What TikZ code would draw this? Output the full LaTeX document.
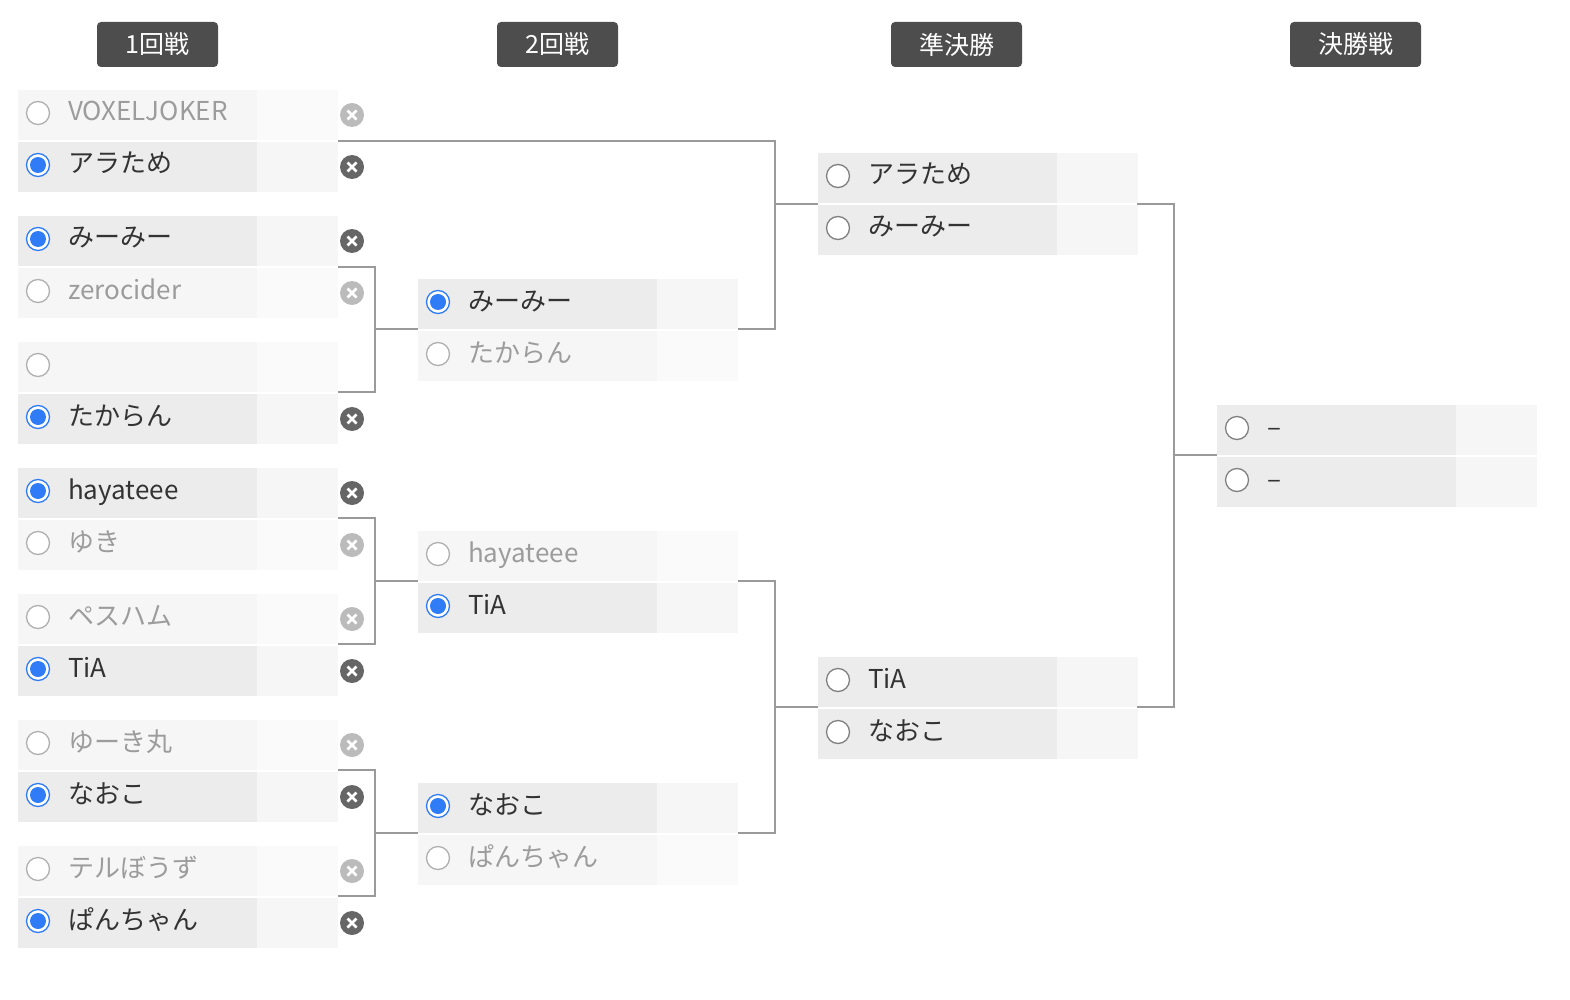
\documentclass[tikz,border=0pt]{standalone}
\usepackage{fontspec}
\setmainfont{Noto Sans CJK JP}
\definecolor{hdr}{HTML}{4D4D4D}
\definecolor{wl}{HTML}{ECECEC}
\definecolor{wr}{HTML}{F6F6F6}
\definecolor{ll}{HTML}{F6F6F6}
\definecolor{lr}{HTML}{FAFAFA}
\definecolor{blu}{HTML}{2F7CF6}
\definecolor{ln}{HTML}{9A9A9A}
\definecolor{dk}{HTML}{333333}
\definecolor{gy}{HTML}{9C9C9C}
\definecolor{xd}{HTML}{666666}
\definecolor{xl}{HTML}{BBBBBB}
\tikzset{x=1pt,y=-1pt,
 hdrbox/.style={fill=hdr,rounded corners=4pt,text=white,font=\fontsize{25}{28}\selectfont,inner sep=0pt},
 nm/.style={anchor=west,inner sep=0pt,font=\fontsize{26}{30}\selectfont},
 conn/.style={draw=ln,line width=2.5pt}}
% #1 name, #2 x, #3 y top, #4 text, #5 winner(1)/loser(0), #6 radio: 0 empty gray,1 selected,2 empty dark, #7 xicon: 0 none,1 dark,2 light
\newcommand\prow[7]{%
 \ifnum#5=1 \def\tcol{dk}\fill[wl] (#2,#3) rectangle ++(239,50); \fill[wr] (#2+239,#3) rectangle ++(81,50);
 \else \def\tcol{gy}\fill[ll] (#2,#3) rectangle ++(239,50); \fill[lr] (#2+239,#3) rectangle ++(81,50); \fi
 \coordinate (#1) at (#2,#3+25);
 \ifcase#6 \draw[draw=gy!80,line width=1.3pt,fill=white] (#2+20,#3+23) circle (11.5);
 \or \draw[draw=blu,line width=1.3pt,fill=white] (#2+20,#3+23) circle (11.5); \fill[blu] (#2+20,#3+23) circle (8);
 \or \draw[draw=gray,line width=1.3pt,fill=white] (#2+20,#3+23) circle (11.5); \fi
 \node[nm,text=\tcol] (#1t) at (#2+50,#3+25) {\strut #4};
 \ifcase#7 \or \xic{#2+334}{#3+25}{xd}\or \xic{#2+334}{#3+25}{xl}\fi}
\newcommand\xic[3]{\fill[#3] (#1,#2) circle (12);
 \draw[white,line width=2.6pt] (#1-4.5,#2-4.5) -- (#1+4.5,#2+4.5) (#1-4.5,#2+4.5) -- (#1+4.5,#2-4.5);}
\begin{document}
\begin{tikzpicture}
\useasboundingbox (0,0) rectangle (1570,1000);
\node[hdrbox,minimum width=121pt,minimum height=45pt] (h1) at (157.5,44.5) {1回戦};
\node[hdrbox,minimum width=121pt,minimum height=45pt] (h2) at (557.5,44.5) {2回戦};
\node[hdrbox,minimum width=131pt,minimum height=45pt] (h3) at (956.5,44.5) {準決勝};
\node[hdrbox,minimum width=131pt,minimum height=45pt] (h4) at (1355.5,44.5) {決勝戦};
% round 1
\prow{a1}{18}{90}{VOXELJOKER}{0}{0}{2}
\prow{a2}{18}{142}{アラため}{1}{1}{1}
\prow{a3}{18}{216}{みーみー}{1}{1}{1}
\prow{a4}{18}{268}{zerocider}{0}{0}{2}
\prow{a5}{18}{342}{}{0}{0}{0}
\prow{a6}{18}{394}{たからん}{1}{1}{1}
\prow{a7}{18}{468}{hayateee}{1}{1}{1}
\prow{a8}{18}{520}{ゆき}{0}{0}{2}
\prow{a9}{18}{594}{ペスハム}{0}{0}{2}
\prow{a10}{18}{646}{TiA}{1}{1}{1}
\prow{a11}{18}{720}{ゆーき丸}{0}{0}{2}
\prow{a12}{18}{772}{なおこ}{1}{1}{1}
\prow{a13}{18}{846}{テルぼうず}{0}{0}{2}
\prow{a14}{18}{898}{ぱんちゃん}{1}{1}{1}
% round 2
\prow{b1}{418}{279}{みーみー}{1}{1}{0}
\prow{b2}{418}{331}{たからん}{0}{0}{0}
\prow{b3}{418}{531}{hayateee}{0}{0}{0}
\prow{b4}{418}{583}{TiA}{1}{1}{0}
\prow{b5}{418}{783}{なおこ}{1}{1}{0}
\prow{b6}{418}{835}{ぱんちゃん}{0}{0}{0}
% semis
\prow{c1}{818}{153}{アラため}{1}{2}{0}
\prow{c2}{818}{205}{みーみー}{1}{2}{0}
\prow{c3}{818}{657}{TiA}{1}{2}{0}
\prow{c4}{818}{709}{なおこ}{1}{2}{0}
% final
\prow{d1}{1217}{405}{--}{1}{2}{0}
\prow{d2}{1217}{457}{--}{1}{2}{0}
% connectors
\draw[conn] (338,141) -- (775,141) -- (775,329) -- (738,329);
\draw[conn] (775,204) -- (818,204);
\draw[conn] (338,267) -- (375,267) -- (375,392) -- (338,392);
\draw[conn] (375,329) -- (418,329);
\draw[conn] (338,518) -- (375,518) -- (375,644) -- (338,644);
\draw[conn] (375,581) -- (418,581);
\draw[conn] (338,770) -- (375,770) -- (375,896) -- (338,896);
\draw[conn] (375,833) -- (418,833);
\draw[conn] (738,581) -- (775,581) -- (775,833) -- (738,833);
\draw[conn] (775,707) -- (818,707);
\draw[conn] (1137,204) -- (1174,204) -- (1174,707) -- (1137,707);
\draw[conn] (1174,455) -- (1217,455);
\end{tikzpicture}
\end{document}
